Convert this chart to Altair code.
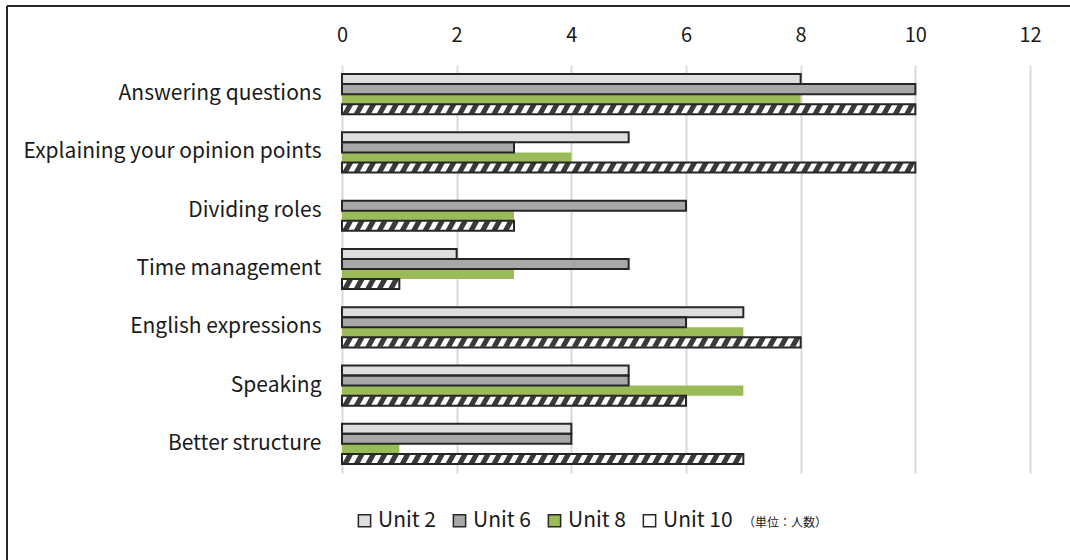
import altair as alt
import pandas as pd

# Survey categories (top to bottom) and the four units compared
categories = [
    "Answering questions",
    "Explaining your opinion points",
    "Dividing roles",
    "Time management",
    "English expressions",
    "Speaking ",
    "Better structure",
]
units = ["Unit 2", "Unit 6", "Unit 8", "Unit 10"]

# Number of students per category for each unit
unit2 = [8, 5, 0, 2, 7, 5, 4]
unit6 = [10, 3, 6, 5, 6, 5, 4]
unit8 = [8, 4, 3, 3, 7, 7, 1]
unit10 = [10, 10, 3, 1, 8, 6, 7]

x_ticks = [0, 2, 4, 6, 8, 10, 12]
unit_colors = ["#dedede", "#a8a8a8", "#9bbb59", "#ffffff"]
outline = "#262626"
font = "Noto Sans CJK JP"

rows = []
for series, unit in zip([unit2, unit6, unit8, unit10], units):
    for cat, v in zip(categories, series):
        rows.append({"category": cat, "unit": unit, "value": v})
df = pd.DataFrame(rows)

# Hatching for the Unit 10 bars: one slanted stripe every 0.2 along each bar
stripe_step = 0.2
stripe_rows = []
for cat, v in zip(categories, unit10):
    n = int(round(v / stripe_step))
    for k in range(n):
        stripe_rows.append({"category": cat, "unit": "Unit 10",
                            "pos": stripe_step * k + stripe_step / 2})
stripes = pd.DataFrame(stripe_rows)

x_scale = alt.Scale(domain=[0, 12], nice=False)
y_scale = alt.Scale(domain=categories, paddingInner=0.31, paddingOuter=0.155)
off_scale = alt.Scale(domain=units, paddingInner=0, paddingOuter=0)

y_enc = alt.Y(
    "category:N",
    scale=y_scale,
    axis=alt.Axis(
        title=None, ticks=False, domain=False, labelPadding=21,
        labelFontSize=21, labelFont=font, labelColor="#1a1a1a", labelLimit=400,
    ),
)
yoff_enc = alt.YOffset("unit:N", scale=off_scale)

bars = alt.Chart(df).mark_bar(strokeWidth=0).encode(
    x=alt.X(
        "value:Q",
        scale=x_scale,
        axis=alt.Axis(
            orient="top", values=x_ticks, format="d", title=None, ticks=False,
            domain=False, labelFontSize=20, labelFont=font, labelColor="#1a1a1a",
            labelPadding=20, labelFlush=False,
            grid=True, gridColor="#d9d9d9", gridWidth=2,
        ),
    ),
    y=y_enc,
    yOffset=yoff_enc,
    color=alt.Color(
        "unit:N",
        scale=alt.Scale(domain=units, range=unit_colors),
        legend=alt.Legend(
            title=None, orient="none", direction="horizontal",
            legendX=12, legendY=445,
            symbolType="square", symbolSize=150, symbolStrokeColor=outline,
            symbolStrokeWidth=1.5, symbolOpacity=1,
            labelFontSize=21, labelFont=font, labelColor="#1a1a1a",
            labelOffset=3, columnPadding=12,
        ),
    ),
)

hatch = alt.Chart(stripes).mark_point(
    shape="M -1.2 1 L 0.1 1 L 1.2 -1 L -0.1 -1 Z",
    filled=True, size=81, opacity=1, color="#3a3a3a", strokeWidth=0,
).encode(
    x=alt.X("pos:Q", scale=x_scale),
    y=alt.Y("category:N", scale=y_scale),
    yOffset=yoff_enc,
)

outlines = alt.Chart(df).transform_filter(
    (alt.datum.unit != "Unit 8") & (alt.datum.value > 0)
).mark_bar(fillOpacity=0, stroke=outline, strokeWidth=2).encode(
    x=alt.X("value:Q", scale=x_scale),
    y=alt.Y("category:N", scale=y_scale),
    yOffset=yoff_enc,
)

unit_note = alt.Chart(pd.DataFrame({"t": ["（単位：人数）"]})).mark_text(
    align="left", baseline="middle", fontSize=12, font=font, color="#1a1a1a",
).encode(x=alt.value(401), y=alt.value(458), text="t:N")

frame = pd.DataFrame({"a": [0]})
frame_top = alt.Chart(frame).mark_rule(color=outline, strokeWidth=2).encode(
    x=alt.value(-335), x2=alt.value(760), y=alt.value(-59)
)
frame_left = alt.Chart(frame).mark_rule(color=outline, strokeWidth=2).encode(
    x=alt.value(-335), y=alt.value(-59), y2=alt.value(520)
)

chart = alt.layer(bars, hatch, outlines, unit_note, frame_top, frame_left).properties(
    width=688,
    height=408,
    autosize=alt.AutoSizeParams(type="none"),
    padding={"left": 342, "top": 65, "right": 40, "bottom": 87},
    background="#ffffff",
).configure_view(stroke=None)

chart.save("out.html", embed_options={"renderer": "svg", "actions": False})
